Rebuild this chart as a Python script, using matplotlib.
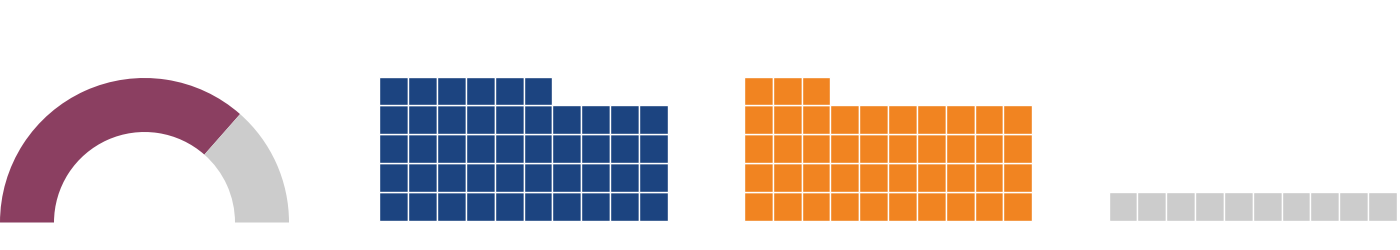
import matplotlib
matplotlib.use("Agg")
import matplotlib.pyplot as plt
from matplotlib.patches import Wedge, Rectangle

# gauge (percent filled)
gauge_value = 73
gauge_colors = ["#8B3F61", "#CCCCCC"]

# waffles: number of filled cells out of 50 (10 columns x 5 rows)
waffle_values = [46, 43, 10]
waffle_colors = ["#1C4480", "#F18421", "#CCCCCC"]
n_cols = 10


def draw_gauge(ax, value, cx, cy, r_out, r_in):
    split = 180 - 180 * value / 100.0
    ax.add_patch(Wedge((cx, cy), r_out, split, 180, width=r_out - r_in,
                       facecolor=gauge_colors[0], edgecolor="none"))
    ax.add_patch(Wedge((cx, cy), r_out, 0, split, width=r_out - r_in,
                       facecolor=gauge_colors[1], edgecolor="none"))


def draw_waffle(ax, n, color, x0, y0, cell):
    for i in range(n):
        row, col = divmod(i, n_cols)
        ax.add_patch(Rectangle((x0 + col * cell, y0 + row * cell), cell, cell,
                               facecolor=color, edgecolor="white", linewidth=1.0))


fig = plt.figure(figsize=(14, 2.5), dpi=100)
ax = fig.add_axes([0, 0, 1, 1])
ax.set_xlim(0, 1400)
ax.set_ylim(0, 250)
ax.axis("off")

# y measured from bottom of figure; baseline ~ 27.5 px above the bottom
draw_gauge(ax, gauge_value, 144.5, 27.5, 144.5, 90.5)

cell = 28.84
for k, (v, c) in enumerate(zip(waffle_values, waffle_colors)):
    draw_waffle(ax, v, c, 379.3 + k * 364.6, 29.3, cell)

fig.savefig("out.png", dpi=100)
plt.close(fig)
